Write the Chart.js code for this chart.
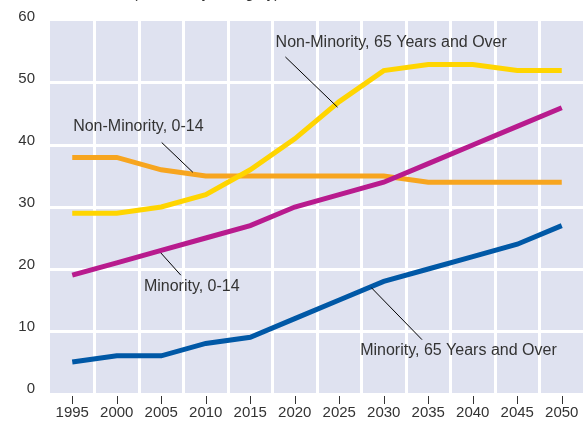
<!DOCTYPE html>
<html>
<head>
<meta charset="utf-8">
<script src="https://cdn.jsdelivr.net/npm/chart.js@4/dist/chart.umd.min.js"></script>
<style>
  html, body { margin: 0; padding: 0; background: #fff; }
  #wrap { width: 588px; height: 423px; }
</style>
</head>
<body>
<div id="wrap"><canvas id="grafico" width="588" height="423"></canvas></div>
<script>
const years = ["1995", "2000", "2005", "2010", "2015", "2020", "2025", "2030", "2035", "2040", "2045", "2050"];
const nonMinority014 = [38, 38, 36, 35, 35, 35, 35, 35, 34, 34, 34, 34];
const nonMinority65 = [29, 29, 30, 32, 36, 41, 47, 52, 53, 53, 52, 52];
const minority014 = [19, 21, 23, 25, 27, 30, 32, 34, 37, 40, 43, 46];
const minority65 = [5, 6, 6, 8, 9, 12, 15, 18, 20, 22, 24, 27];

const FONT = "'Liberation Sans', Arial, Helvetica, sans-serif";
const TEXT_COLOR = "#333333";

// callouts: text spot and leader line, in data units (category index, value)
const callouts = [
  { text: "Non-Minority, 65 Years and Over", at: [4.57, 56.5], from: [4.79, 54.2], to: [5.96, 46.1] },
  { text: "Non-Minority, 0-14", at: [0.02, 43.0], from: [2.01, 40.4], to: [2.71, 35.6] },
  { text: "Minority, 0-14", at: [1.61, 17.1], from: [1.99, 22.6], to: [2.44, 19.0] },
  { text: "Minority, 65 Years and Over", at: [6.47, 6.8], from: [6.72, 17.0], to: [7.86, 8.6] },
];

const fondo = {
  id: "fondo",
  beforeDraw(chart) {
    const { ctx, chartArea: a } = chart;
    ctx.save();
    ctx.fillStyle = "#dfe2f0";
    ctx.fillRect(a.left, a.top, a.right - a.left, a.bottom - a.top);
    ctx.restore();
  },
};

const extras = {
  id: "extras",
  afterDatasetsDraw(chart) {
    const { ctx, scales } = chart;
    const x = scales.x, y = scales.y;
    const px = (i) => x.getPixelForValue(0) + (x.getPixelForValue(1) - x.getPixelForValue(0)) * i;

    // tick marks below the plot, at each year
    ctx.save();
    ctx.strokeStyle = TEXT_COLOR;
    ctx.lineWidth = 1;
    years.forEach((_, i) => {
      const xx = Math.round(x.getPixelForTick(i)) + 0.5;
      ctx.beginPath();
      ctx.moveTo(xx, chart.chartArea.bottom + 3);
      ctx.lineTo(xx, chart.chartArea.bottom + 11);
      ctx.stroke();
    });

    // callouts
    ctx.font = "16px " + FONT;
    ctx.textAlign = "left";
    ctx.textBaseline = "middle";
    callouts.forEach((c) => {
      ctx.strokeStyle = "#000";
      ctx.beginPath();
      ctx.moveTo(px(c.from[0]), y.getPixelForValue(c.from[1]));
      ctx.lineTo(px(c.to[0]), y.getPixelForValue(c.to[1]));
      ctx.stroke();
      ctx.fillStyle = TEXT_COLOR;
      ctx.fillText(c.text, px(c.at[0]), y.getPixelForValue(c.at[1]));
    });

    // subtitle, cut off by the top edge
    ctx.font = "15px " + FONT;
    ctx.textAlign = "center";
    ctx.textBaseline = "alphabetic";
    ctx.fillText("(Percent by Category)", 206, -2.5);
    ctx.restore();
  },
};

const serie = (data, color, order) => ({
  data,
  borderColor: color,
  backgroundColor: color,
  borderWidth: 5,
  pointRadius: 0,
  tension: 0,
  fill: false,
  order,
});

const ctx = document.getElementById("grafico").getContext("2d");
const chart = new Chart(ctx, {
  type: "line",
  data: {
    labels: years,
    datasets: [
      serie(nonMinority65, "#ffd500", 0),
      serie(minority014, "#b81b8e", 1),
      serie(nonMinority014, "#f7a51f", 2),
      serie(minority65, "#0058a6", 3),
    ],
  },
  options: {
    responsive: false,
    animation: false,
    layout: { padding: { top: 21, right: 4, left: 0, bottom: 0 } },
    plugins: {
      legend: { display: false },
      tooltip: { enabled: false },
    },
    scales: {
      x: {
        offset: true,
        border: { display: false },
        grid: {
          offset: true,
          drawTicks: false,
          lineWidth: 3,
          color: (c) => (c.index === 0 ? "rgba(0,0,0,0)" : "#ffffff"),
        },
        ticks: {
          color: TEXT_COLOR,
          font: { family: FONT, size: 15 },
          padding: 11,
          maxRotation: 0,
          autoSkip: false,
        },
        afterFit: (s) => { s.height = 30; s.paddingLeft = 0; s.paddingRight = 0; },
      },
      y: {
        min: 0,
        max: 60,
        border: { display: false },
        grid: {
          drawTicks: false,
          lineWidth: 3,
          color: (c) => (c.tick.value === 0 || c.tick.value === 60 ? "rgba(0,0,0,0)" : "#ffffff"),
        },
        ticks: {
          stepSize: 10,
          color: TEXT_COLOR,
          font: { family: FONT, size: 15 },
          padding: 15,
          labelOffset: -4,
        },
        afterFit: (s) => { s.width = 50; s.paddingTop = 0; s.paddingBottom = 0; },
      },
    },
  },
  plugins: [fondo, extras],
});
</script>
</body>
</html>
